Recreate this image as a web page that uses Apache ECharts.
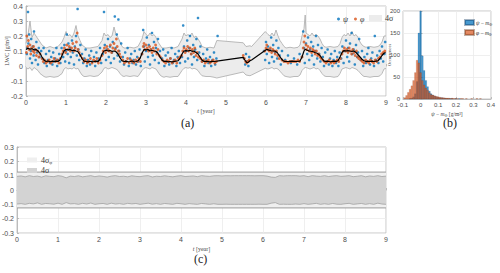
<!DOCTYPE html>
<html><head><meta charset="utf-8">
<script src="https://cdn.jsdelivr.net/npm/echarts@6/dist/echarts.min.js"></script>
<style>html,body{margin:0;padding:0;background:#fff}#c{width:500px;height:273px}</style>
</head><body><div id="c"></div>
<script>
// ---------- panel (a) data ----------
const bandT = [0,0.05,0.1,0.15,0.2,0.25,0.3,0.35,0.4,0.45,0.5,0.6,0.7,0.8,0.9,0.95,1.0,1.05,1.1,1.15,1.2,1.25,1.3,1.35,1.4,1.45,1.5,1.6,1.7,1.8,1.9,1.95,2.0,2.05,2.1,2.15,2.2,2.25,2.3,2.35,2.4,2.45,2.5,2.6,2.7,2.8,2.9,2.95,3.0,3.05,3.1,3.15,3.2,3.25,3.3,3.35,3.4,3.45,3.5,3.6,3.7,3.8,3.9,3.95,4.0,4.05,4.1,4.15,4.2,4.25,4.3,4.35,4.4,4.5,4.6,4.7,4.77,5.43,5.5,5.6,5.64,5.98,6.05,6.1,6.15,6.2,6.25,6.3,6.35,6.4,6.45,6.5,6.6,6.7,6.8,6.85,6.9,6.95,6.98,7.0,7.05,7.1,7.15,7.2,7.25,7.3,7.35,7.4,7.45,7.5,7.6,7.7,7.8,7.85,7.9,7.95,8.0,8.05,8.1,8.15,8.2,8.25,8.3,8.35,8.4,8.45,8.5,8.6,8.7,8.8,8.85,8.9,8.95,9.0];
const bandHi = [0.15,0.21,0.30,0.19,0.22,0.20,0.18,0.16,0.14,0.13,0.12,0.13,0.12,0.13,0.16,0.19,0.23,0.20,0.21,0.19,0.22,0.27,0.20,0.17,0.14,0.13,0.12,0.12,0.125,0.13,0.17,0.22,0.20,0.21,0.19,0.20,0.26,0.21,0.19,0.16,0.13,0.12,0.12,0.125,0.12,0.13,0.18,0.23,0.21,0.20,0.22,0.20,0.21,0.19,0.16,0.14,0.12,0.12,0.12,0.125,0.12,0.13,0.18,0.22,0.20,0.21,0.20,0.22,0.19,0.20,0.18,0.16,0.13,0.12,0.125,0.12,0.17,0.155,0.13,0.135,0.13,0.23,0.21,0.20,0.22,0.20,0.24,0.20,0.17,0.15,0.13,0.12,0.125,0.12,0.125,0.14,0.20,0.25,0.34,0.22,0.21,0.20,0.22,0.20,0.21,0.20,0.18,0.15,0.13,0.125,0.13,0.125,0.13,0.15,0.19,0.21,0.20,0.22,0.20,0.23,0.20,0.21,0.19,0.16,0.14,0.13,0.125,0.13,0.125,0.13,0.14,0.16,0.20,0.20];
const bandLo = [-0.01,-0.02,-0.01,-0.03,-0.01,-0.02,-0.03,-0.05,-0.06,-0.07,-0.075,-0.07,-0.075,-0.07,-0.05,-0.02,-0.01,-0.02,-0.015,-0.02,-0.01,-0.02,-0.015,-0.04,-0.06,-0.07,-0.07,-0.065,-0.07,-0.065,-0.04,-0.015,-0.01,-0.02,-0.015,-0.01,-0.015,-0.02,-0.03,-0.05,-0.065,-0.07,-0.065,-0.07,-0.065,-0.07,-0.03,-0.015,-0.01,-0.015,-0.02,-0.01,-0.015,-0.02,-0.04,-0.06,-0.07,-0.075,-0.07,-0.075,-0.07,-0.07,-0.03,-0.015,-0.01,-0.015,-0.01,-0.02,-0.015,-0.02,-0.03,-0.05,-0.065,-0.07,-0.07,-0.075,-0.08,-0.04,-0.06,-0.065,-0.06,-0.015,-0.02,-0.015,-0.01,-0.02,-0.015,-0.02,-0.035,-0.05,-0.065,-0.07,-0.075,-0.07,-0.07,-0.06,-0.03,-0.015,-0.01,-0.01,-0.015,-0.02,-0.015,-0.01,-0.02,-0.015,-0.03,-0.05,-0.065,-0.07,-0.07,-0.075,-0.07,-0.05,-0.02,-0.015,-0.01,-0.015,-0.02,-0.01,-0.015,-0.02,-0.03,-0.045,-0.06,-0.07,-0.07,-0.075,-0.07,-0.07,-0.065,-0.05,-0.02,-0.015];
const meanT = [0,0.05,0.1,0.15,0.2,0.25,0.3,0.35,0.4,0.45,0.5,0.55,0.6,0.65,0.7,0.75,0.8,0.85,0.9,0.95,1.0,1.05,1.1,1.15,1.2,1.25,1.3,1.35,1.4,1.45,1.5,1.55,1.6,1.65,1.7,1.75,1.8,1.85,1.9,1.95,2.0,2.05,2.1,2.15,2.2,2.25,2.3,2.35,2.4,2.45,2.5,2.55,2.6,2.65,2.7,2.75,2.8,2.85,2.9,2.95,3.0,3.05,3.1,3.15,3.2,3.25,3.3,3.35,3.4,3.45,3.5,3.55,3.6,3.65,3.7,3.75,3.8,3.85,3.9,3.95,4.0,4.05,4.1,4.15,4.2,4.25,4.3,4.35,4.4,4.45,4.5,4.55,4.6,4.65,4.7,4.77,5.43,5.47,5.52,5.56,5.6,5.64,6.02,6.08,6.15,6.22,6.28,6.33,6.38,6.43,6.47,6.55,6.65,6.75,6.85,6.9,6.95,6.98,7.03,7.08,7.15,7.22,7.28,7.35,7.4,7.45,7.5,7.55,7.6,7.65,7.7,7.75,7.8,7.85,7.9,7.95,8.0,8.05,8.1,8.15,8.2,8.25,8.3,8.35,8.4,8.45,8.5,8.55,8.6,8.65,8.7,8.75,8.8,8.85,8.9,8.95,8.99];
const meanV = [0.11,0.118,0.112,0.115,0.108,0.11,0.1,0.085,0.06,0.04,0.03,0.033,0.028,0.032,0.03,0.033,0.03,0.04,0.07,0.1,0.112,0.108,0.11,0.103,0.106,0.1,0.095,0.075,0.05,0.033,0.03,0.027,0.032,0.028,0.03,0.033,0.03,0.045,0.08,0.1,0.105,0.1,0.103,0.098,0.1,0.095,0.08,0.055,0.035,0.03,0.032,0.028,0.03,0.033,0.028,0.03,0.035,0.05,0.085,0.11,0.108,0.11,0.1,0.105,0.1,0.098,0.085,0.06,0.04,0.03,0.032,0.028,0.03,0.027,0.03,0.033,0.035,0.05,0.08,0.1,0.103,0.1,0.105,0.098,0.1,0.09,0.08,0.06,0.04,0.03,0.032,0.03,0.028,0.031,0.03,0.032,0.058,0.04,0.023,0.025,0.035,0.04,0.111,0.105,0.1,0.1,0.09,0.07,0.05,0.035,0.03,0.03,0.032,0.03,0.033,0.06,0.1,0.112,0.105,0.1,0.098,0.09,0.085,0.07,0.05,0.032,0.03,0.032,0.028,0.03,0.032,0.03,0.035,0.06,0.09,0.103,0.1,0.103,0.1,0.098,0.1,0.09,0.075,0.06,0.045,0.035,0.03,0.032,0.03,0.033,0.03,0.032,0.035,0.05,0.07,0.085,0.09];
const psiPts = [[0.02,0.08],[0.03,0.12],[0.05,0.36],[0.06,0.15],[0.08,0.21],[0.1,0.05],[0.12,0.1],[0.13,0.18],[0.15,0.02],[0.17,0.13],[0.19,0.07],[0.2,0.23],[0.22,0.11],[0.24,0.04],[0.26,0.16],[0.28,0.09],[0.3,0.01],[0.32,0.12],[0.34,0.06],
[0.38,0.1],[0.41,0.05],[0.44,0.12],[0.46,0.02],[0.5,0.08],[0.52,0.0],[0.55,0.04],[0.58,0.1],[0.6,0.02],[0.63,0.06],[0.66,0.01],[0.68,0.09],[0.7,0.03],[0.73,0.05],[0.76,0.12],[0.78,0.0],[0.8,0.04],[0.83,0.08],[0.86,0.02],[0.89,0.12],
[0.93,0.06],[0.96,0.14],[0.98,0.03],[1.0,0.1],[1.02,0.21],[1.04,0.08],[1.06,0.15],[1.08,0.02],[1.1,0.12],[1.12,0.06],[1.15,0.17],[1.17,0.09],[1.2,0.01],[1.22,0.13],[1.25,0.2],[1.27,0.07],[1.29,0.38],[1.31,0.11],[1.33,0.04],[1.36,0.14],
[1.4,0.08],[1.43,0.02],[1.46,0.05],[1.49,0.11],[1.52,0.0],[1.55,0.04],[1.58,0.07],[1.6,0.01],[1.63,0.1],[1.66,0.03],[1.7,0.06],[1.73,0.0],[1.76,0.09],[1.79,0.03],[1.82,0.05],[1.85,0.12],[1.88,0.02],
[1.92,0.08],[1.95,0.36],[1.97,0.14],[2.0,0.04],[2.02,0.11],[2.05,0.18],[2.07,0.06],[2.1,0.13],[2.12,0.02],[2.15,0.09],[2.17,0.16],[2.2,0.05],[2.22,0.33],[2.24,0.12],[2.27,0.21],[2.29,0.07],[2.31,0.31],[2.33,0.1],[2.35,0.03],[2.38,0.15],
[2.42,0.06],[2.45,0.01],[2.48,0.09],[2.51,0.03],[2.54,0.12],[2.57,0.0],[2.6,0.05],[2.63,0.08],[2.66,0.02],[2.69,0.04],[2.72,0.1],[2.75,0.01],[2.78,0.06],[2.81,0.03],[2.84,0.11],[2.87,0.0],
[2.9,0.08],[2.93,0.24],[2.95,0.13],[2.97,0.03],[3.0,0.1],[3.02,0.19],[3.05,0.06],[3.07,0.14],[3.1,0.01],[3.12,0.11],[3.15,0.22],[3.17,0.07],[3.2,0.16],[3.22,0.04],[3.25,0.12],[3.27,0.09],[3.3,0.18],[3.32,0.02],[3.35,0.1],
[3.4,0.05],[3.43,0.11],[3.46,0.0],[3.49,0.07],[3.52,0.03],[3.55,0.09],[3.58,0.01],[3.61,0.05],[3.64,0.12],[3.67,0.02],[3.7,0.04],[3.73,0.08],[3.76,0.0],[3.79,0.06],[3.82,0.1],[3.85,0.02],
[3.9,0.06],[3.93,0.27],[3.95,0.13],[3.98,0.03],[4.0,0.1],[4.03,0.17],[4.05,0.05],[4.08,0.12],[4.1,0.2],[4.13,0.08],[4.15,0.01],[4.18,0.14],[4.2,0.06],[4.23,0.11],[4.26,0.18],[4.28,0.04],[4.3,0.32],[4.33,0.09],[4.36,0.13],
[4.4,0.03],[4.43,0.08],[4.46,0.0],[4.5,0.05],[4.53,0.11],[4.56,0.02],[4.6,0.06],[4.63,0.0],[4.66,0.04],[4.7,0.09],[4.73,0.01],[4.76,0.05],[4.79,0.2],
[5.45,0.05],[5.48,0.01],[5.5,0.08],[5.53,0.03],[5.56,0.0],[5.58,0.06],
[5.95,0.1],[5.98,0.04],[6.0,0.16],[6.02,0.08],[6.05,0.13],[6.08,0.02],[6.1,0.11],[6.13,0.19],[6.15,0.06],[6.18,0.14],[6.2,0.03],[6.23,0.09],[6.26,0.17],[6.28,0.05],[6.31,0.12],[6.34,0.07],[6.37,0.01],[6.4,0.1],
[6.48,0.04],[6.55,0.07],[6.62,0.02],[6.7,0.05],[6.78,0.01],[6.84,0.08],
[6.9,0.06],[6.93,0.23],[6.95,0.12],[6.97,0.02],[7.0,0.15],[7.03,0.08],[7.05,0.19],[7.08,0.04],[7.1,0.11],[7.13,0.16],[7.15,0.07],[7.18,0.13],[7.2,0.01],[7.23,0.1],[7.25,0.2],[7.28,0.05],[7.3,0.14],[7.33,0.08],[7.36,0.03],[7.39,0.12],
[7.42,0.06],[7.45,0.0],[7.48,0.09],[7.51,0.03],[7.54,0.11],[7.57,0.01],[7.6,0.05],[7.63,0.08],[7.66,0.0],[7.69,0.04],[7.72,0.1],[7.75,0.02],[7.78,0.06],[7.81,0.0],[7.84,0.09],
[7.88,0.05],[7.91,0.13],[7.94,0.02],[7.97,0.1],[8.0,0.17],[8.03,0.06],[8.05,0.12],[8.08,0.03],[8.1,0.15],[8.14,0.22],[8.16,0.08],[8.19,0.11],[8.22,0.01],[8.25,0.14],[8.28,0.06],[8.3,0.09],[8.33,0.18],
[8.37,0.04],[8.4,0.1],[8.43,0.0],[8.46,0.06],[8.5,0.02],[8.53,0.08],[8.56,0.12],[8.6,0.01],[8.63,0.05],[8.66,0.09],[8.7,0.0],[8.72,0.2],[8.75,0.04],[8.78,0.07],[8.81,0.02],[8.84,0.1],[8.87,0.05],[8.9,0.13],[8.93,0.03],[8.96,0.08],[8.98,0.16]];
const phiPts = [[0.01,0.09],[0.02,0.2],[0.04,0.13],[0.06,0.17],[0.08,0.11],[0.1,0.14],[0.12,0.08],[0.14,0.12],[0.17,0.1],[0.19,0.13],[0.21,0.09],[0.24,0.11],[0.26,0.07],[0.29,0.1],[0.32,0.06],[0.35,0.08],
[0.4,0.05],[0.43,0.03],[0.46,0.04],[0.5,0.02],[0.54,0.03],[0.58,0.04],[0.62,0.02],[0.66,0.03],[0.7,0.05],[0.74,0.03],[0.78,0.04],[0.82,0.02],[0.86,0.05],
[0.9,0.08],[0.93,0.1],[0.96,0.12],[0.99,0.09],[1.02,0.14],[1.05,0.11],[1.08,0.13],[1.11,0.1],[1.14,0.12],[1.17,0.15],[1.2,0.1],[1.23,0.12],[1.26,0.16],[1.28,0.22],[1.3,0.11],[1.33,0.09],[1.36,0.07],
[1.41,0.05],[1.45,0.03],[1.49,0.04],[1.53,0.02],[1.57,0.03],[1.61,0.05],[1.65,0.02],[1.69,0.04],[1.73,0.03],[1.77,0.05],[1.81,0.02],[1.85,0.04],
[1.9,0.07],[1.93,0.1],[1.96,0.12],[1.99,0.09],[2.02,0.13],[2.05,0.11],[2.08,0.1],[2.11,0.14],[2.14,0.09],[2.17,0.12],[2.2,0.15],[2.23,0.11],[2.26,0.18],[2.28,0.13],[2.31,0.1],[2.34,0.08],[2.37,0.06],
[2.42,0.04],[2.46,0.02],[2.5,0.03],[2.54,0.05],[2.58,0.02],[2.62,0.04],[2.66,0.03],[2.7,0.02],[2.74,0.04],[2.78,0.03],[2.82,0.05],[2.86,0.03],
[2.9,0.08],[2.93,0.13],[2.95,0.15],[2.97,0.11],[3.0,0.14],[3.03,0.12],[3.06,0.1],[3.09,0.13],[3.12,0.11],[3.15,0.09],[3.18,0.12],[3.21,0.1],[3.24,0.14],[3.27,0.08],[3.3,0.11],[3.33,0.07],[3.36,0.06],
[3.41,0.04],[3.45,0.03],[3.49,0.02],[3.53,0.04],[3.57,0.03],[3.61,0.05],[3.65,0.02],[3.69,0.03],[3.73,0.04],[3.77,0.02],[3.81,0.05],[3.85,0.06],
[3.89,0.07],[3.92,0.1],[3.95,0.12],[3.98,0.09],[4.01,0.11],[4.04,0.13],[4.07,0.1],[4.1,0.12],[4.13,0.08],[4.16,0.11],[4.19,0.09],[4.22,0.12],[4.25,0.07],[4.28,0.09],[4.31,0.06],
[4.36,0.05],[4.4,0.03],[4.44,0.04],[4.48,0.02],[4.52,0.03],[4.56,0.04],[4.6,0.02],[4.64,0.03],[4.68,0.04],[4.72,0.02],[4.76,0.03],
[5.43,0.07],[5.46,0.05],[5.49,0.03],[5.52,0.02],[5.55,0.03],[5.58,0.04],
[5.97,0.1],[6.0,0.12],[6.02,0.14],[6.05,0.11],[6.08,0.1],[6.11,0.12],[6.14,0.09],[6.17,0.11],[6.2,0.1],[6.23,0.08],[6.26,0.1],[6.29,0.07],[6.33,0.05],
[6.4,0.04],[6.45,0.03],[6.5,0.03],[6.55,0.02],[6.6,0.03],[6.65,0.03],[6.7,0.03],[6.75,0.03],[6.8,0.04],[6.84,0.03],
[6.9,0.06],[6.93,0.12],[6.95,0.16],[6.97,0.2],[7.0,0.14],[7.02,0.11],[7.05,0.13],[7.08,0.1],[7.11,0.12],[7.14,0.09],[7.17,0.11],[7.2,0.1],[7.23,0.08],[7.26,0.1],[7.29,0.07],[7.32,0.08],[7.35,0.06],[7.38,0.05],
[7.42,0.04],[7.46,0.03],[7.5,0.02],[7.54,0.03],[7.58,0.04],[7.62,0.02],[7.66,0.03],[7.7,0.02],[7.74,0.03],[7.78,0.04],[7.82,0.03],[7.86,0.05],
[7.9,0.08],[7.93,0.1],[7.96,0.12],[7.99,0.1],[8.02,0.11],[8.05,0.09],[8.08,0.12],[8.11,0.1],[8.14,0.08],[8.17,0.11],[8.2,0.09],[8.23,0.07],[8.26,0.1],[8.29,0.06],[8.32,0.05],
[8.37,0.04],[8.41,0.03],[8.45,0.02],[8.49,0.04],[8.53,0.03],[8.57,0.02],[8.61,0.04],[8.65,0.03],[8.69,0.02],[8.73,0.04],[8.77,0.03],[8.81,0.05],[8.85,0.06],[8.89,0.08],[8.93,0.09],[8.97,0.1]];

// ---------- panel (b) data ----------
const histX = [-0.09,-0.08,-0.07,-0.06,-0.05,-0.04,-0.03,-0.02,-0.01,0,0.01,0.02,0.03,0.04,0.05,0.06,0.07,0.08,0.09,0.1,0.11,0.12,0.13,0.14,0.15,0.16,0.17,0.18,0.19,0.2,0.21,0.22,0.23,0.24,0.25,0.26,0.27,0.28,0.29,0.3,0.31,0.32,0.33,0.34,0.35];
const histPsi = [0,0,0,1,2,5,12,40,150,215,98,65,42,28,18,12,9,7,5,4,3,3,2,2,1,1,1,1,0,1,0,1,0,0,0,0,0,0,0,0,0,0,0,0,0];
const histPhi = [3,8,15,22,30,42,60,88,82,60,42,32,25,20,14,10,9,7,6,5,4,3,3,2,2,2,1,2,1,1,1,0,1,1,0,1,0,0,1,0,0,1,0,1,0];
const binW = 0.01;

// ---------- panel (c) data ----------
const cT = [0,0.1,0.2,0.3,0.4,0.5,0.6,0.7,0.8,0.9,1,1.1,1.2,1.3,1.4,1.5,1.6,1.7,1.8,1.9,2,2.1,2.2,2.3,2.4,2.5,2.6,2.7,2.8,2.9,3,3.1,3.2,3.3,3.4,3.5,3.6,3.7,3.8,3.9,4,4.1,4.2,4.3,4.4,4.5,4.6,4.7,4.8,4.9,5,5.1,5.2,5.3,5.4,5.5,5.6,5.7,5.8,5.9,6,6.1,6.2,6.3,6.4,6.5,6.6,6.7,6.8,6.9,7,7.1,7.2,7.3,7.4,7.5,7.6,7.7,7.8,7.9,8,8.1,8.2,8.3,8.4,8.5,8.6,8.7,8.8,8.9,9];
const cUp = [0.095,0.098,0.092,0.1,0.094,0.097,0.09,0.099,0.095,0.093,0.1,0.096,0.085,0.097,0.094,0.099,0.092,0.096,0.1,0.093,0.098,0.095,0.09,0.097,0.1,0.094,0.096,0.092,0.099,0.095,0.093,0.098,0.1,0.091,0.096,0.094,0.099,0.095,0.092,0.097,0.1,0.094,0.096,0.098,0.093,0.1,0.097,0.095,0.099,0.1,0.098,0.1,0.099,0.1,0.1,0.1,0.1,0.1,0.099,0.1,0.1,0.097,0.09,0.088,0.1,0.098,0.1,0.1,0.1,0.097,0.1,0.093,0.1,0.097,0.095,0.1,0.094,0.098,0.1,0.095,0.097,0.1,0.093,0.096,0.1,0.092,0.098,0.095,0.1,0.094,0.097];
const cLo = [-0.098,-0.095,-0.1,-0.093,-0.097,-0.09,-0.1,-0.094,-0.096,-0.099,-0.092,-0.1,-0.088,-0.097,-0.095,-0.1,-0.093,-0.098,-0.091,-0.1,-0.096,-0.094,-0.1,-0.092,-0.098,-0.095,-0.1,-0.093,-0.097,-0.094,-0.1,-0.096,-0.092,-0.099,-0.095,-0.1,-0.094,-0.097,-0.1,-0.093,-0.096,-0.1,-0.095,-0.098,-0.1,-0.094,-0.097,-0.1,-0.096,-0.1,-0.1,-0.099,-0.1,-0.1,-0.1,-0.1,-0.1,-0.1,-0.1,-0.099,-0.1,-0.1,-0.092,-0.088,-0.1,-0.099,-0.1,-0.1,-0.098,-0.1,-0.095,-0.1,-0.097,-0.093,-0.1,-0.096,-0.1,-0.094,-0.099,-0.1,-0.096,-0.093,-0.1,-0.097,-0.094,-0.1,-0.095,-0.1,-0.092,-0.098,-0.1];
const cOuterT = [0,9];
const cOuterHi = [0.125,0.125];
const cOuterLo = [-0.125,-0.125];

// ---------- build ----------
const zip = (xs, ys) => xs.map((x, i) => [x, ys[i]]);
const BLUE = '#0072BD', ORANGE = '#D95319';
const tickFont = {fontFamily: 'Liberation Sans', fontSize: 7, color: '#4d4d4d'};
const gridLine = {show: true, lineStyle: {color: '#ebebeb', width: 0.8}};
const axLine = {show: true, lineStyle: {color: '#b0b0b0', width: 0.8}};
const tick = {show: true, inside: true, length: 2, lineStyle: {color: '#b0b0b0', width: 0.8}};
const serif = 'Liberation Serif';

function bandSeries(xi, yi, ts, hi, lo, fill, z, name) {
  return {
    name: name, type: 'custom', xAxisIndex: xi, yAxisIndex: yi, silent: true, z: z,
    itemStyle: {color: fill},
    data: [[ts[0], hi[0]]],
    renderItem: function (params, api) {
      const pts = [];
      for (let i = 0; i < ts.length; i++) pts.push(api.coord([ts[i], hi[i]]));
      for (let i = ts.length - 1; i >= 0; i--) pts.push(api.coord([ts[i], lo[i]]));
      return {type: 'polygon', shape: {points: pts}, style: {fill: fill, stroke: null}};
    }
  };
}
function edgeLine(xi, yi, ts, vs, color, w, z) {
  return {type: 'line', xAxisIndex: xi, yAxisIndex: yi, data: zip(ts, vs), symbol: 'none', silent: true,
    lineStyle: {color: color, width: w}, z: z};
}
function histItem(params, api) {
  const c = api.value(0), n = api.value(1);
  if (!n) return null;
  const a = api.coord([c - binW / 2, n]);
  const b = api.coord([c + binW / 2, 0]);
  const cs = params.coordSys;
  const r = echarts.graphic.clipRectByRect(
    {x: a[0], y: a[1], width: b[0] - a[0], height: b[1] - a[1]},
    {x: cs.x, y: cs.y, width: cs.width, height: cs.height});
  return r && {type: 'rect', shape: r, style: api.style()};
}

const chart = echarts.init(document.getElementById('c'), null, {renderer: 'svg', width: 500, height: 273});
chart.setOption({
  animation: false,
  backgroundColor: '#fff',
  grid: [
    {left: 26, top: 6, width: 360, height: 90, show: true, borderColor: '#b8b8b8', borderWidth: 0.8, backgroundColor: 'transparent', outerBoundsMode: 'none'},
    {left: 403, top: 11, width: 88, height: 88, show: true, borderColor: '#b8b8b8', borderWidth: 0.8, backgroundColor: 'transparent', outerBoundsMode: 'none'},
    {left: 17, top: 147, width: 369, height: 86, show: true, borderColor: '#b8b8b8', borderWidth: 0.8, backgroundColor: 'transparent', outerBoundsMode: 'none'}
  ],
  xAxis: [
    {gridIndex: 0, type: 'value', min: 0, max: 9, interval: 1, axisLine: axLine, axisTick: tick, splitLine: gridLine,
     axisLabel: Object.assign({margin: 3}, tickFont),
     name: '{i|t} [year]', nameLocation: 'middle', nameGap: 12, nameMoveOverlap: false,
     nameTextStyle: {fontFamily: serif, fontSize: 6, color: '#444', rich: {i: {fontFamily: serif, fontStyle: 'italic', fontSize: 6, color: '#444'}}}},
    {gridIndex: 1, type: 'value', min: -0.1, max: 0.4, interval: 0.1, axisLine: axLine, axisTick: tick, splitLine: gridLine,
     axisLabel: Object.assign({margin: 3, formatter: v => String(+v.toFixed(1))}, tickFont, {fontSize: 6}),
     name: '{i|ψ} − {i|m}{s|Φ} [g/m³]', nameLocation: 'middle', nameGap: 11, nameMoveOverlap: false,
     nameTextStyle: {fontFamily: serif, fontSize: 5.5, color: '#444', rich: {i: {fontFamily: serif, fontStyle: 'italic', fontSize: 5.5, color: '#444'}, s: {fontFamily: serif, fontSize: 4, color: '#444', padding: [3, 0, 0, 0]}}}},
    {gridIndex: 2, type: 'value', min: 0, max: 9, interval: 1, axisLine: axLine, axisTick: tick, splitLine: gridLine,
     axisLabel: Object.assign({margin: 3}, tickFont),
     name: '{i|t} [year]', nameLocation: 'middle', nameGap: 13, nameMoveOverlap: false,
     nameTextStyle: {fontFamily: serif, fontSize: 6, color: '#444', rich: {i: {fontFamily: serif, fontStyle: 'italic', fontSize: 6, color: '#444'}}}}
  ],
  yAxis: [
    {gridIndex: 0, type: 'value', min: -0.2, max: 0.4, interval: 0.1, axisLine: axLine, axisTick: tick, splitLine: gridLine,
     axisLabel: Object.assign({margin: 3, formatter: v => String(+v.toFixed(1))}, tickFont),
     name: 'LWC [g/m³]', nameLocation: 'middle', nameGap: 16, nameRotate: 90, nameMoveOverlap: false,
     nameTextStyle: {fontFamily: serif, fontSize: 6, color: '#444'}},
    {gridIndex: 1, type: 'value', min: 0, max: 200, interval: 50, axisLine: axLine, axisTick: tick, splitLine: gridLine,
     axisLabel: Object.assign({margin: 3}, tickFont, {fontSize: 6}),
     name: 'Occurrences', nameLocation: 'middle', nameGap: 11, nameRotate: 90, nameMoveOverlap: false,
     nameTextStyle: {fontFamily: serif, fontSize: 4.5, color: '#444'}},
    {gridIndex: 2, type: 'value', min: -0.3, max: 0.3, interval: 0.1, axisLine: axLine, axisTick: tick, splitLine: gridLine,
     axisLabel: Object.assign({margin: 3, formatter: v => String(+v.toFixed(1))}, tickFont)}
  ],
  legend: [
    {data: ['ψ', 'φ'], left: 332, top: 10, orient: 'horizontal', itemWidth: 3, itemHeight: 3, itemGap: 6, icon: 'circle',
     textStyle: {fontFamily: serif, fontStyle: 'italic', fontSize: 8, color: '#333', padding: [0, 0, 0, -2]}},
    {data: ['4σ'], left: 364, top: 9, itemWidth: 13, itemHeight: 6, icon: 'rect', itemGap: 2,
     textStyle: {fontFamily: serif, fontSize: 8, color: '#333', padding: [0, 0, 0, -2]}},
    {data: ['ψ − mΦ', 'φ − mΦ'], left: 459, top: 14, orient: 'vertical', itemWidth: 9, itemHeight: 5, itemGap: 3, icon: 'rect',
     formatter: n => n === 'ψ − mΦ' ? '{i|ψ} − {i|m}{s|Φ}' : '{i|φ} − {i|m}{s|Φ}',
     textStyle: {fontFamily: serif, fontSize: 5.5, color: '#333', padding: [0, 0, 0, -3],
       rich: {i: {fontFamily: serif, fontStyle: 'italic', fontSize: 5.5, color: '#333'}, s: {fontFamily: serif, fontSize: 4, color: '#333', padding: [3, 0, 0, 0]}}}},
    {data: ['4σφ', '4σ '], left: 22, top: 151, orient: 'vertical', itemWidth: 10, itemHeight: 5, itemGap: 2, icon: 'rect',
     formatter: n => n === '4σφ' ? '{a|4σ}{s|φ}' : '{a|4σ}',
     textStyle: {fontFamily: serif, fontSize: 8, color: '#333', padding: [0, 0, 0, -1],
       rich: {a: {fontFamily: serif, fontSize: 8, color: '#333'}, s: {fontFamily: serif, fontSize: 5, color: '#333', padding: [4, 0, 0, 0]}}}}
  ],
  series: [
    bandSeries(0, 0, bandT, bandHi, bandLo, '#ececec', 1, '4σ'),
    edgeLine(0, 0, bandT, bandHi, '#a9a9a9', 0.8, 2),
    edgeLine(0, 0, bandT, bandLo, '#a9a9a9', 0.8, 2),
    {name: 'ψ', type: 'scatter', xAxisIndex: 0, yAxisIndex: 0, data: psiPts, symbolSize: 2.6, itemStyle: {color: BLUE}, z: 3},
    {name: 'φ', type: 'scatter', xAxisIndex: 0, yAxisIndex: 0, data: phiPts, symbolSize: 2.8, itemStyle: {color: ORANGE}, z: 4},
    {type: 'line', xAxisIndex: 0, yAxisIndex: 0, data: zip(meanT, meanV), symbol: 'none', lineStyle: {color: '#000', width: 1.2}, z: 5},
    {name: 'ψ − mΦ', type: 'custom', xAxisIndex: 1, yAxisIndex: 1, data: zip(histX, histPsi), renderItem: histItem,
     itemStyle: {color: 'rgba(0,114,189,0.72)', borderColor: 'rgba(0,40,80,0.35)', borderWidth: 0.3}, z: 2},
    {name: 'φ − mΦ', type: 'custom', xAxisIndex: 1, yAxisIndex: 1, data: zip(histX, histPhi), renderItem: histItem,
     itemStyle: {color: 'rgba(217,83,25,0.68)', borderColor: 'rgba(80,30,0,0.35)', borderWidth: 0.3}, z: 3},
    bandSeries(2, 2, cOuterT, cOuterHi, cOuterLo, '#efefef', 1, '4σφ'),
    edgeLine(2, 2, cOuterT, cOuterHi, '#9a9a9a', 1, 2),
    edgeLine(2, 2, cOuterT, cOuterLo, '#9a9a9a', 1, 2),
    bandSeries(2, 2, cT, cUp, cLo, '#d3d3d3', 3, '4σ '),
    edgeLine(2, 2, cT, cUp, '#a0a0a0', 0.8, 4),
    edgeLine(2, 2, cT, cLo, '#a0a0a0', 0.8, 4)
  ],
  graphic: [
    {type: 'text', left: 181, top: 117, style: {text: '(a)', fontFamily: serif, fontSize: 12, fill: '#222'}},
    {type: 'text', left: 443, top: 117, style: {text: '(b)', fontFamily: serif, fontSize: 12, fill: '#222'}},
    {type: 'text', left: 194, top: 253, style: {text: '(c)', fontFamily: serif, fontSize: 12, fill: '#222'}}
  ]
});
</script></body></html>
